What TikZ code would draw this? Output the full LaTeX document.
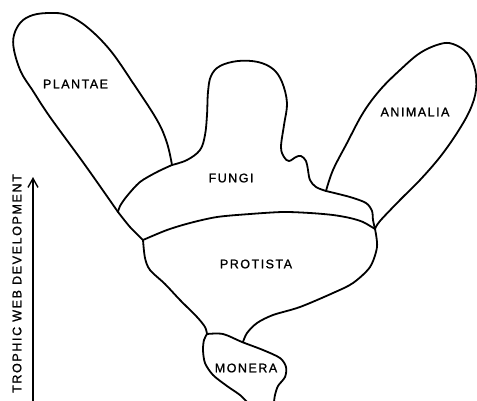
\documentclass[tikz,border=0pt]{standalone}
\usepackage{fontspec}
\setmainfont{Liberation Sans}
\usetikzlibrary{arrows.meta}
\tikzset{
  kingdom/.style={line width=1.8pt,line join=round,line cap=round},
  kingname/.style={inner sep=0pt,font=\fontsize{12.5}{14}\selectfont\addfontfeature{LetterSpace=12,FakeBold=1.2}},
}
\begin{document}
\begin{tikzpicture}[x=1pt,y=-1pt]
            \useasboundingbox (0,0) rectangle (477,400);
            \clip (0,0) rectangle (477,400);
            % junctions
            \coordinate (jPF) at (172,165);
            \coordinate (jPL) at (118,212);
            \coordinate (jFP) at (143,240);
            \coordinate (jFA) at (326,191);
            \coordinate (jAP) at (375,229);
            \coordinate (jPM) at (207,334);
            \coordinate (jMP) at (243,342);
            % plantae
            \draw[kingdom] plot[smooth,tension=.6] coordinates {(118,212) (85,165) (50,117) (33,91) (21,72) (14,50) (14,35) (21,22) (33,15) (50,13) (67,15) (87,27) (110,50) (133,83) (157,120) (167,143) (172,165)};
            \draw[kingdom] plot[smooth] coordinates {(172,165) (157,172) (140,182) (127,196) (120,206) (118,212)};
            \draw[kingdom] plot[smooth] coordinates {(118,212) (130,227) (143,240)};
            % fungi
            \draw[kingdom] plot[smooth,tension=.6] coordinates {(172,165) (187,160) (200,150) (205,135) (207,115) (208,92) (211,76) (220,66) (238,61) (258,62) (273,69) (282,82) (287,103) (284,125) (281,147) (284,157) (289,161) (296,157) (301,156) (306,161) (308,170) (310,180) (316,187) (326,191)};
            \draw[kingdom] plot[smooth] coordinates {(326,191) (350,197) (366,203) (372,211) (373,220) (375,229)};
            \draw[kingdom] plot[smooth] coordinates {(143,240) (167,230) (190,223) (217,217) (250,214) (283,212) (310,213) (333,215) (350,218) (363,222) (375,229)};
            % animalia
            \draw[kingdom] plot[smooth,tension=.6] coordinates {(326,191) (333,170) (347,143) (363,113) (380,90) (400,70) (420,53) (440,44) (453,44) (467,53) (475,70) (476,90) (470,110) (457,133) (440,157) (420,180) (400,200) (380,221) (375,229)};
            % protista
            \draw[kingdom] plot[smooth] coordinates {(143,240) (145,258) (150,270) (165,284) (180,300) (197,317) (205,327) (207,334)};
            \draw[kingdom] plot[smooth] coordinates {(375,229) (377,247) (370,267) (353,283) (333,293) (300,307) (273,315) (257,323) (247,333) (243,342)};
            % monera
            \draw[kingdom] plot[smooth] coordinates {(207,334) (223,334) (242,342) (263,350) (280,358) (286,367) (285,377) (278,386) (275,395) (274,402)};
            \draw[kingdom] plot[smooth] coordinates {(207,334) (204,340) (203,350) (205,363) (213,375) (227,386) (240,395) (247,402)};
            % names
            \node[kingname] (plantae) at (75.5,84) {PLANTAE};
            \node[kingname] (animalia) at (415,112) {ANIMALIA};
            \node[kingname] (fungi) at (231,178) {FUNGI};
            \node[kingname] (protista) at (256,264) {PROTISTA};
            \node[kingname] (monera) at (246,368) {MONERA};
            % axis
            \coordinate (abot) at (33,402);
            \coordinate (atop) at (33,177);
            \draw[line width=1.4pt,-{Straight Barb[length=9pt,width=10pt,line width=1.4pt]}] (abot) to (atop);
            \node[kingname,rotate=90,anchor=east,font=\fontsize{12.5}{14}\selectfont\addfontfeature{LetterSpace=13,FakeBold=1.2}] (axis) at (17,174) {TROPHIC WEB DEVELOPMENT};
        \end{tikzpicture}
\end{document}
